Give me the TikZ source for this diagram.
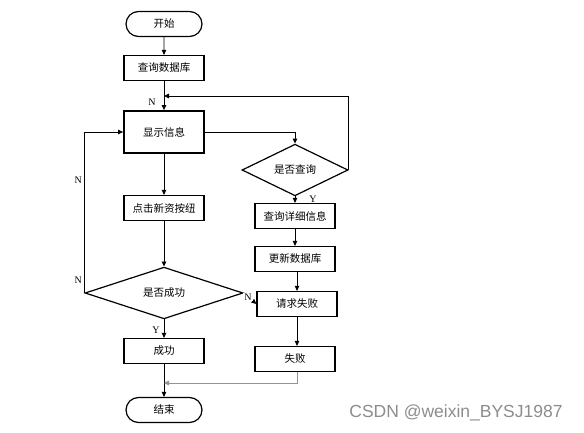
\documentclass[tikz,border=0pt]{standalone}
\usepackage{fontspec}
\setmainfont{Liberation Serif}
\newfontfamily\cjk{Noto Sans CJK SC}
\newfontfamily\wmfont{Liberation Sans}
\usetikzlibrary{arrows.meta,shapes.geometric,shapes.misc,calc}
\tikzset{
  blk/.style={draw,rectangle,minimum width=80pt,minimum height=25pt,line width=1.2pt,inner sep=2pt,font=\cjk\fontsize{10.5}{12}\selectfont},
  boldblk/.style={blk,line width=1.8pt,minimum height=42pt},
  termblk/.style={blk,rounded rectangle},
  decblk/.style={blk,diamond,inner sep=0pt,minimum height=42pt},
  arr/.style={-{Triangle[length=5pt,width=4.5pt]},line width=0.9pt},
  grayarr/.style={arr,draw=gray!85},
  lbl/.style={font=\fontsize{10}{12}\selectfont,inner sep=1pt},
  wm/.style={font=\wmfont\fontsize{17.5}{20}\selectfont,text=black!45}
}

\begin{document}
\begin{tikzpicture}[x=1pt,y=-1pt]
  \useasboundingbox (0,0) rectangle (584,433);
  % main column
  \node[termblk] (start) at (164,24) {开始};
  \node[blk] (query) at (164,68) {查询数据库};
  \node[boldblk] (show) at (164,132) {显示信息};
  \node[blk] (btn) at (164,208) {点击新资按纽};
  \node[decblk,minimum width=158pt] (cg) at (164,293) {是否成功};
  \node[blk] (ok) at (164,351) {成功};
  \node[termblk] (stop) at (164,410) {结束};
  % right column
  \node[decblk,minimum width=106pt] (askq) at (295,170) {是否查询};
  \node[blk] (detail) at (295,216) {查询详细信息};
  \node[blk] (update) at (295,259) {更新数据库};
  \node[blk] (fail1) at (297,304) {请求失败};
  \node[blk] (fail2) at (295,359) {失败};
  \coordinate (fb) at (164,96);
  \coordinate (mg) at (164,383);
  \node[wm] (mark) at (456,413) {CSDN @weixin\_BYSJ1987};

  \draw[arr] (start)--(query);
  \draw[arr] (query)--(show) node[lbl,pos=0.73,left=7pt]{N};
  \draw[arr] (show)--(btn);
  \draw[arr] (btn)--(cg);
  \draw[arr] (cg)--(ok) node[lbl,pos=0.56,left=3pt]{Y};
  \draw[arr] (ok)--(stop);
  \draw[arr] (show.east) -| (askq.north);
  \draw[arr] (askq.east) |- (fb);
  \draw[arr] (askq)--(detail) node[lbl,pos=0.5,right=13pt]{Y};
  \draw[arr] (detail)--(update);
  \draw[arr] (update.south -| fail1) -- (fail1.north);
  \draw[arr] (fail1.south) -- (fail1.south |- fail2.north);
  \draw[grayarr] (fail2.south -| fail1) |- (mg);
  \draw[arr] (cg.west) |- (show.west)
    node[lbl,pos=0.04,left=1pt]{N} node[lbl,pos=0.35,left=1pt]{N};
  \draw[arr] (cg.east) -- (fail1.west) node[lbl,pos=0.35,fill=white]{N};
\end{tikzpicture}
\end{document}
